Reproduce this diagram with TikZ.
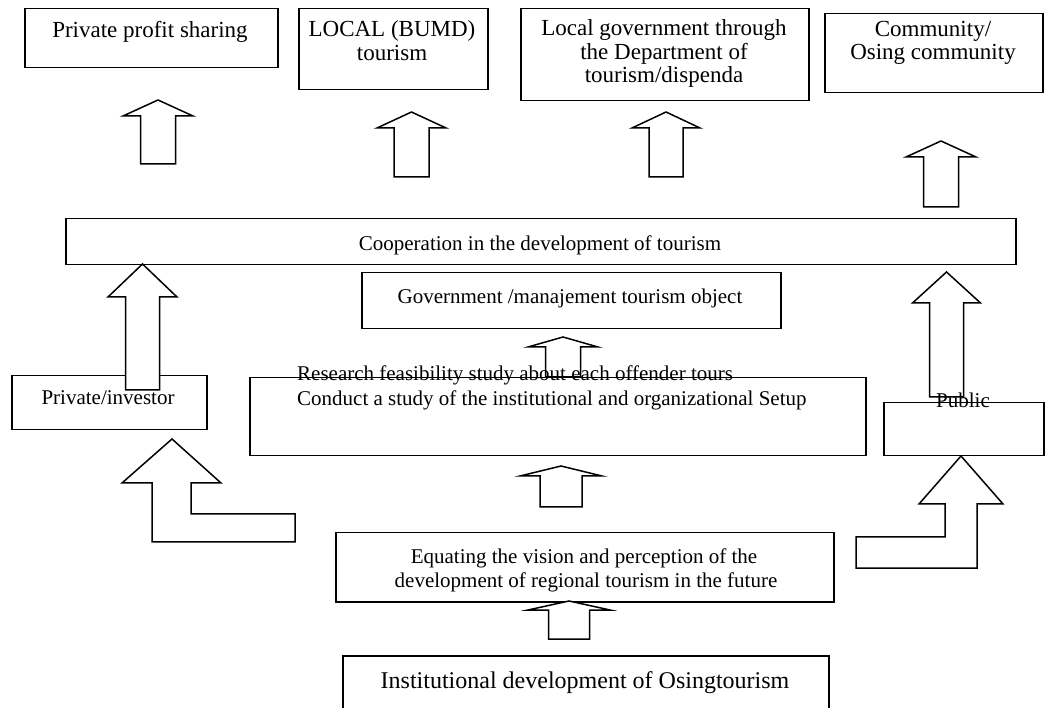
\documentclass[tikz,border=0pt]{standalone}
\usepackage{fontspec}
\setmainfont{Liberation Serif}
\newcommand\blkup[7]{% name, cx, tip, headbase, headhalf, shafthalf, bottom
  \draw[barrow] ({#2-#6},#7) -- ({#2-#6},#4) -- ({#2-#5},#4) -- (#2,#3)
    -- ({#2+#5},#4) -- ({#2+#6},#4) -- ({#2+#6},#7) -- cycle;
  \coordinate (#1) at (#2,#3);}
\begin{document}
\begin{tikzpicture}[x=1pt,y=-1pt,
  box/.style={draw, line width=1.5pt, inner sep=0pt, anchor=north west},
  barrow/.style={draw, line width=1.5pt, fill=white, line join=miter},
  ttxt/.style={inner sep=0pt, anchor=base, font=\fontsize{23}{24}\selectfont},
  mtxt/.style={inner sep=0pt, anchor=base, font=\fontsize{21}{24}\selectfont},
  btxt/.style={inner sep=0pt, anchor=base, font=\fontsize{24}{26}\selectfont}]
\useasboundingbox (0,0) rectangle (1061,708);

% boxes
\node[box, minimum width=253, minimum height=59] (b1) at (24,8) {};
\node[box, minimum width=189, minimum height=81] (b2) at (298,8) {};
\node[box, minimum width=288, minimum height=92] (b3) at (520,8) {};
\node[box, minimum width=218, minimum height=79] (b4) at (824,13) {};
\node[box, minimum width=950, minimum height=46] (coop) at (65,218) {};
\node[box, minimum width=419, minimum height=56] (gov) at (361,272) {};
\node[box, minimum width=195, minimum height=54] (priv) at (11,375) {};
\node[box, minimum width=616, minimum height=78] (res) at (249,377) {};
\node[box, minimum width=160, minimum height=53] (pub) at (883,402) {};
\node[box, minimum width=498, minimum height=69] (equ) at (335,532) {};
\node[box, minimum width=486, minimum height=70] (inst) at (342,655) {};

% block arrows
\blkup{a1}{158}{100}{116}{35}{17.5}{164}
\blkup{a2}{411.5}{112}{128}{34.5}{17.5}{177}
\blkup{a3}{666}{112}{128}{34}{17}{177}
\blkup{a4}{941}{141}{157}{35}{17.5}{207}
\blkup{al}{142.5}{264}{297}{34.5}{17}{390}
\blkup{ar}{946.5}{272}{303}{34}{17}{397}
\blkup{ag}{563}{337}{347}{35}{17.5}{377}
\blkup{am}{561}{466}{476}{41}{21}{507}
\blkup{ab}{569}{601}{610}{41}{20.5}{639}
\draw[barrow] (152,542) -- (152,483) -- (122,483) -- (172,439) -- (221,483)
  -- (191,483) -- (191,514) -- (295,514) -- (295,542) -- cycle;
\draw[barrow] (856,537) -- (945,537) -- (945,504) -- (919,504) -- (961,456)
  -- (1003,504) -- (977,504) -- (977,568) -- (856,568) -- cycle;

% texts
\node[ttxt] (t1) at (150,38) {Private profit sharing};
\node[ttxt] (t2a) at (392,37) {LOCAL (BUMD)};
\node[ttxt] (t2b) at (392,61) {tourism};
\node[ttxt] (t3a) at (664,36) {Local government through};
\node[ttxt] (t3b) at (664,60) {the Department of};
\node[ttxt] (t3c) at (664,83) {tourism/dispenda};
\node[ttxt] (t4a) at (933,37) {Community/};
\node[ttxt] (t4b) at (933,60) {Osing community};
\node[mtxt] (tc) at (540,251) {Cooperation in the development of tourism};
\node[mtxt] (tg) at (570,304) {Government /manajement tourism object};
\node[mtxt] (tp) at (108,405) {Private/investor};
\node[mtxt, anchor=base west] (tr1) at (297,381) {Research feasibility study about each offender tours};
\node[mtxt, anchor=base west] (tr2) at (297,406) {Conduct a study of the institutional and organizational Setup};
\node[mtxt] (tpu) at (963,408) {Public};
\node[mtxt] (te1) at (584,563) {Equating the vision and perception of the};
\node[mtxt] (te2) at (586,587) {development of regional tourism in the future};
\node[btxt] (ti) at (585,688) {Institutional development of Osingtourism};
\end{tikzpicture}
\end{document}
